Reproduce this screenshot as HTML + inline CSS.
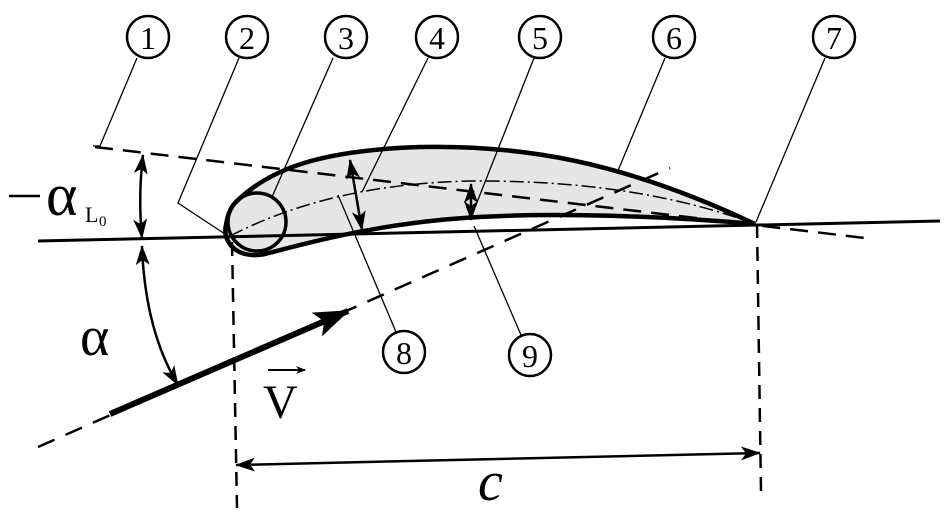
<!DOCTYPE html>
<html><head><meta charset="utf-8"><style>html,body{margin:0;padding:0;background:#fff}svg{display:block}</style></head>
<body>
<svg width="952" height="512" viewBox="0 0 952 512" xmlns="http://www.w3.org/2000/svg" font-family="Liberation Serif, serif">
<defs>
<marker id="ah" markerWidth="10" markerHeight="8" refX="9" refY="4" orient="auto" markerUnits="userSpaceOnUse"><path d="M0,0 L10,4 L0,8 L3,4z" fill="#000"/></marker>
<marker id="ahs" markerWidth="20" markerHeight="14" refX="19" refY="7" orient="auto-start-reverse" markerUnits="userSpaceOnUse"><path d="M0,0 L20,7 L0,14 L5,7z" fill="#000"/></marker>
<marker id="ahb" markerWidth="36" markerHeight="26" refX="34" refY="13" orient="auto" markerUnits="userSpaceOnUse"><path d="M0,0 L36,13 L0,26 L8,13z" fill="#000"/></marker>
</defs>
<path d="M238,200 C275,165 330,150 420,147 C520,145 620,160 755,224 C640,214 520,212 440,220 C360,228 300,245 265,254 C235,260 222,240 226,225 C228,212 232,205 238,200Z" fill="#e6e6e6" stroke="#000" stroke-width="4.5"/>
<circle cx="257" cy="222" r="29" fill="none" stroke="#000" stroke-width="3.5"/>
<line x1="38" y1="241" x2="940" y2="221" stroke="#000" stroke-width="3"/>
<line x1="95" y1="147" x2="865" y2="238" stroke="#000" stroke-width="2.5" stroke-dasharray="18,10"/>
<path d="M230,236 C300,200 380,183 470,181 C600,180 690,200 755,224" fill="none" stroke="#000" stroke-width="1.5" stroke-dasharray="14,4,2,4"/>
<line x1="38" y1="447" x2="670" y2="168" stroke="#000" stroke-width="2.5" stroke-dasharray="18,12"/>
<line x1="110" y1="414" x2="348" y2="311" stroke="#000" stroke-width="6" marker-end="url(#ahb)"/>
<line x1="232" y1="242" x2="237" y2="508" stroke="#000" stroke-width="2.5" stroke-dasharray="14,9"/>
<line x1="757" y1="224" x2="761" y2="492" stroke="#000" stroke-width="2.5" stroke-dasharray="14,9"/>
<line x1="236" y1="465" x2="760" y2="453" stroke="#000" stroke-width="2.5" marker-start="url(#ahs)" marker-end="url(#ahs)"/>
<path d="M143,155 Q138,197 142,238" fill="none" stroke="#000" stroke-width="2.5" marker-start="url(#ahs)" marker-end="url(#ahs)"/>
<path d="M142,246 Q145,330 178,385" fill="none" stroke="#000" stroke-width="2.5" marker-start="url(#ahs)" marker-end="url(#ahs)"/>
<line x1="350" y1="160" x2="362" y2="230" stroke="#000" stroke-width="2.5" marker-start="url(#ahs)" marker-end="url(#ahs)"/>
<line x1="471" y1="184" x2="471" y2="220" stroke="#000" stroke-width="2.5" marker-start="url(#ahs)" marker-end="url(#ahs)"/>
<g stroke="#000" stroke-width="1.3" fill="none">
<polyline points="137,58 100,146 93,146"/>
<polyline points="239,58 178,203 228,236"/>
<line x1="333" y1="58" x2="272" y2="197"/>
<line x1="428" y1="58" x2="362" y2="192"/>
<line x1="534" y1="58" x2="472" y2="215"/>
<line x1="665" y1="58" x2="617" y2="173"/>
<line x1="825" y1="58" x2="756" y2="222"/>
<polyline points="338,195 396,332"/>
<polyline points="474,226 521,335"/>
</g>
<g fill="#fff" stroke="#000" stroke-width="2.5">
<circle cx="148" cy="37" r="21"/><circle cx="247" cy="37" r="21"/><circle cx="346" cy="37" r="21"/><circle cx="437" cy="37" r="21"/>
<circle cx="540" cy="37" r="21"/><circle cx="674" cy="37" r="21"/><circle cx="834" cy="37" r="21"/>
<circle cx="404" cy="352" r="21"/><circle cx="530" cy="355" r="21"/>
</g>
<g font-size="32" text-anchor="middle">
<text x="148" y="49">1</text><text x="247" y="49">2</text><text x="346" y="49">3</text><text x="437" y="49">4</text>
<text x="540" y="49">5</text><text x="674" y="49">6</text><text x="834" y="49">7</text>
<text x="404" y="364">8</text><text x="530" y="367">9</text>
</g>
<line x1="9" y1="196" x2="40" y2="196" stroke="#000" stroke-width="2.5"/>
<text x="46" y="215" font-size="60">α</text>
<text x="85" y="222" font-size="22">L</text><text x="99" y="226" font-size="15">0</text>
<text x="80" y="355" font-size="56">α</text>
<text x="263" y="418" font-size="48">V</text>
<line x1="268" y1="370" x2="305" y2="370" stroke="#000" stroke-width="2" marker-end="url(#ah)"/>
<text x="478" y="500" font-size="56" font-style="italic">c</text>
</svg>
</body></html>
